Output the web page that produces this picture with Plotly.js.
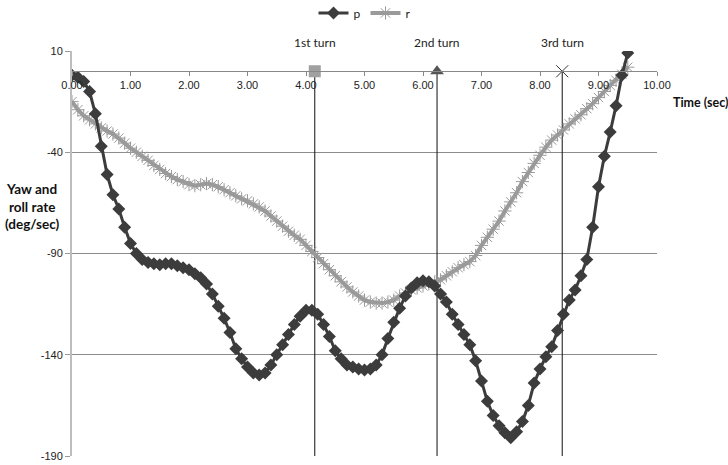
<!DOCTYPE html>
<html>
<head>
<meta charset="utf-8">
<script src="https://cdn.plot.ly/plotly-3.0.1.min.js"></script>
<style>html,body{margin:0;padding:0;background:#fff;}#chart{width:728px;height:465px;}</style>
</head>
<body>
<div id="chart"></div>
<script>
const time = [0.0,0.1,0.2,0.3,0.4,0.5,0.6,0.7,0.8,0.9,
  1.0,1.1,1.2,1.3,1.4,1.5,1.6,1.7,1.8,1.9,
  2.0,2.1,2.2,2.3,2.4,2.5,2.6,2.7,2.8,2.9,
  3.0,3.1,3.2,3.3,3.4,3.5,3.6,3.7,3.8,3.9,
  4.0,4.1,4.2,4.3,4.4,4.5,4.6,4.7,4.8,4.9,
  5.0,5.1,5.2,5.3,5.4,5.5,5.6,5.7,5.8,5.9,
  6.0,6.1,6.2,6.3,6.4,6.5,6.6,6.7,6.8,6.9,
  7.0,7.1,7.2,7.3,7.4,7.5,7.6,7.7,7.8,7.9,
  8.0,8.1,8.2,8.3,8.4,8.5,8.6,8.7,8.8,8.9,
  9.0,9.1,9.2,9.3,9.4,9.5];

const pValues = [-2,-3,-5,-10,-21,-37,-51,-61,-68,-77,
  -85,-90,-93,-94.5,-95,-95.5,-95,-95,-96,-97,
  -98,-100,-102,-105,-110,-116,-122,-129,-137,-142,
  -146,-149,-150,-149,-145,-140,-135,-130,-125,-121,
  -118,-118,-120,-125,-131,-138,-142,-145,-146,-147,
  -147.5,-147,-145,-140,-132,-124,-117,-111,-107,-104.5,
  -103.5,-104,-106,-110,-114,-120,-125,-130,-135,-143,
  -153,-163,-170,-175,-178.5,-181,-178,-173,-165,-154,
  -147,-141,-136,-128,-120,-113,-108,-101,-93,-77,
  -57,-42,-30,-17,-2,9];

const rValues = [-15,-19,-22,-24,-26,-28,-29.5,-31,-33,-35.5,
  -38,-40,-42,-44,-46.5,-48.5,-50.5,-52,-53.5,-54.5,
  -56,-56.5,-56,-55.5,-56,-57,-58.5,-60,-61.5,-63,
  -64,-65.5,-67,-69,-71.5,-74,-76.5,-79,-81,-83,
  -86,-89,-92,-95,-98,-101,-104,-106.5,-109,-111,
  -113,-114,-114.5,-114.5,-114,-113,-111,-109.5,-108,-107,
  -106,-105,-104,-103,-101,-99,-97,-95.5,-94,-91,
  -86,-82,-78,-74,-69,-64.5,-60,-54.5,-50,-45.5,
  -41.5,-37.5,-34,-31.5,-29,-26,-23.5,-21.5,-18.5,-16,
  -13,-10,-7,-4.5,-1.5,2];

const turnTimes = [4.15, 6.24, 8.38];
const turnLabels = ["1st turn", "2nd turn", "3rd turn"];
const turnSymbols = ["square", "triangle-up", "x-thin-open"];
const turnColors = ["#a0a0a0", "#555555", "#333333"];

const yTicks = [10, -40, -90, -140, -190];
const yTickText = ["10", "-40", "-90", "-140", "-190"];
const xTicks = [0,1,2,3,4,5,6,7,8,9,10];

const traces = [];
turnTimes.forEach((t) => {
  traces.push({x:[t,t], y:[0,-190], mode:'lines', line:{color:'#111', width:1}, showlegend:false, hoverinfo:'skip'});
});
traces.push({
  x: time, y: rValues, name: 'r', mode: 'lines+markers',
  line: {color: '#9a9a9a', width: 4},
  marker: {symbol: 'asterisk-open', size: 11, color: '#9a9a9a', line: {color: '#9a9a9a', width: 1}}
});
traces.push({
  x: time, y: pValues, name: 'p', mode: 'lines+markers',
  line: {color: '#3c3c3c', width: 3},
  marker: {symbol: 'diamond', size: 10, color: '#3c3c3c'}
});
turnTimes.forEach((t, i) => {
  traces.push({x:[t], y:[0], mode:'markers', showlegend:false, hoverinfo:'skip',
    marker:{symbol: turnSymbols[i], size: 12, color: turnColors[i], line:{color: turnColors[i], width: i===2 ? 1 : 0}}, cliponaxis:false});
});

const annotations = turnTimes.map((t, i) => ({
  x: t, y: 10, xref: 'x', yref: 'y', text: turnLabels[i], showarrow: false,
  yanchor: 'bottom', yshift: -1, font: {family: 'Lato, sans-serif', size: 12, color: '#222'}
}));
annotations.push({
  xref: 'paper', yref: 'paper', x: -0.067, y: 0.616, xanchor: 'center', yanchor: 'middle',
  text: '<b>Yaw and<br>roll rate<br>(deg/sec)</b>', showarrow: false, align: 'center',
  font: {family: 'Lato, sans-serif', size: 13.5, color: '#111'}
});
annotations.push({
  xref: 'paper', yref: 'paper', x: 1.0, y: 0.874, xanchor: 'left', yanchor: 'middle', xshift: 14,
  text: '<b>Time (sec)</b>', showarrow: false,
  font: {family: 'Lato, sans-serif', size: 12.5, color: '#111'}
});

const layout = {
  width: 728, height: 465,
  margin: {l: 72, r: 71, t: 51, b: 9, autoexpand: false},
  paper_bgcolor: '#fff', plot_bgcolor: '#fff',
  showlegend: true,
  legend: {orientation: 'h', x: 0.5, xanchor: 'center', y: 1.094, yanchor: 'middle',
    traceorder: 'reversed', font: {family: 'Lato, sans-serif', size: 12, color: '#222'},
    itemwidth: 30, tracegroupgap: 0},
  xaxis: {
    range: [0, 10], tickvals: xTicks, tickformat: '.2f',
    anchor: 'free', position: 0.95, side: 'bottom',
    showgrid: false, zeroline: false, showline: true, linecolor: '#888', linewidth: 1,
    ticks: 'outside', ticklen: 4, tickcolor: '#888',
    tickfont: {family: 'Liberation Sans, Arial, sans-serif', size: 11, color: '#222'}
  },
  yaxis: {
    range: [-190, 10], tickvals: yTicks, ticktext: yTickText,
    showgrid: true, gridcolor: '#8c8c8c', gridwidth: 1,
    zeroline: false, showline: true, linecolor: '#bdbdbd', linewidth: 2,
    ticks: 'outside', ticklen: 5, tickcolor: '#999',
    tickfont: {family: 'Liberation Sans, Arial, sans-serif', size: 11, color: '#222'}
  },
  annotations: annotations
};

Plotly.newPlot('chart', traces, layout, {displayModeBar: false, staticPlot: true});
</script>
</body>
</html>
